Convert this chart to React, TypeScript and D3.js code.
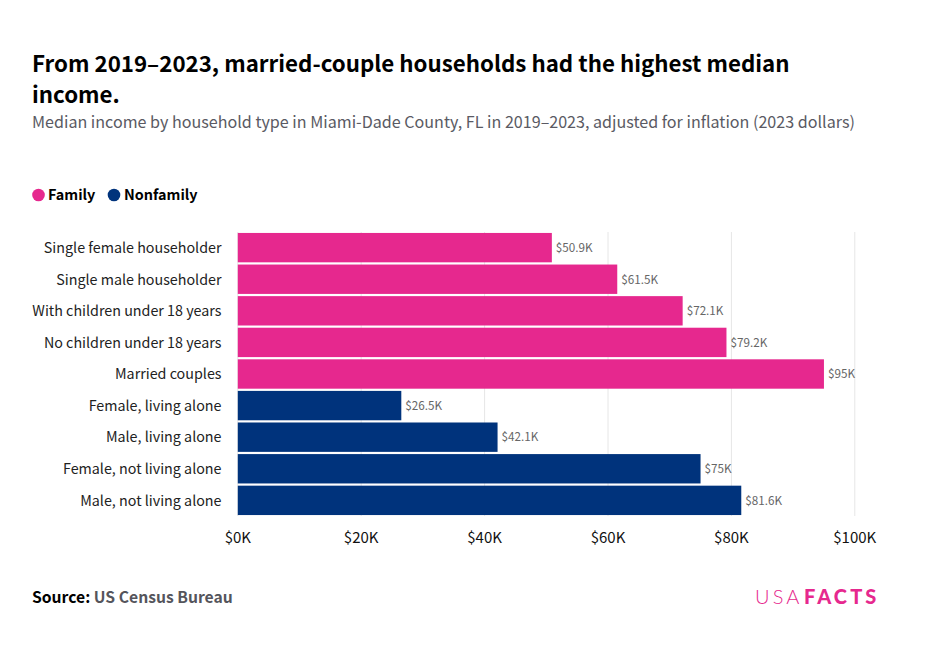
import React from 'react';
import * as d3 from 'd3';

const categories = [
  'Single female householder',
  'Single male householder',
  'With children under 18 years',
  'No children under 18 years',
  'Married couples',
  'Female, living alone',
  'Male, living alone',
  'Female, not living alone',
  'Male, not living alone',
];
const values = [50.9, 61.5, 72.1, 79.2, 95, 26.5, 42.1, 75, 81.6];
const groups = ['Family', 'Family', 'Family', 'Family', 'Family', 'Nonfamily', 'Nonfamily', 'Nonfamily', 'Nonfamily'];
const ticks = [0, 20, 40, 60, 80, 100];
const legend = ['Family', 'Nonfamily'];

const width = 929;
const height = 661;
const font = '"Noto Sans CJK SC", "Noto Sans", sans-serif';
const pink = '#e6288e';
const navy = '#00337c';

const color = d3.scaleOrdinal<string, string>().domain(legend).range([pink, navy]);
const x = d3.scaleLinear().domain([0, 100]).range([237.8, 854.8]);
const y = d3.scaleBand().domain(categories).range([232, 516]).paddingInner(0.07).paddingOuter(0.03);

export default function App() {
  return (
    <svg
      width={width}
      height={height}
      style={{ position: 'absolute', left: 0, top: 0, background: '#fff' }}
      fontFamily={font}
    >
      <text x={32} y={72} fontSize={22.3} fontWeight={700} fill="#000">
        From 2019–2023, married-couple households had the highest median
      </text>
      <text x={32} y={103} fontSize={22.3} fontWeight={700} fill="#000">
        income.
      </text>
      <text x={32} y={128} fontSize={16.1} fill="#5a5a63">
        Median income by household type in Miami-Dade County, FL in 2019–2023, adjusted for inflation (2023 dollars)
      </text>

      <circle cx={38.5} cy={195} r={6.3} fill={pink} />
      <text x={48} y={200} fontSize={14.4} fontWeight={700} fill="#000">{legend[0]}</text>
      <circle cx={114} cy={195} r={6.3} fill={navy} />
      <text x={124} y={200} fontSize={14.4} fontWeight={700} fill="#000">{legend[1]}</text>

      {ticks.map((t) => (
        <g key={t}>
          <line x1={x(t)} x2={x(t)} y1={232} y2={516} stroke="#e6e6e6" strokeWidth={1} />
          <text x={x(t)} y={543} fontSize={15} textAnchor="middle" fill="#111">{`$${t}K`}</text>
        </g>
      ))}

      {categories.map((c, i) => (
        <g key={c}>
          <rect
            x={x(0)}
            y={y(c)}
            width={x(values[i]) - x(0)}
            height={y.bandwidth()}
            fill={color(groups[i])}
          />
          <text
            x={221.5}
            y={y(c)! + y.bandwidth() / 2 + 5.3}
            fontSize={14.3}
            textAnchor="end"
            fill="#222"
          >
            {c}
          </text>
          <text
            x={x(values[i]) + 4}
            y={y(c)! + y.bandwidth() / 2 + 4.3}
            fontSize={11.7}
            fill="#666"
          >
            {`$${values[i]}K`}
          </text>
        </g>
      ))}

      <text x={32} y={603} fontSize={15.7} fontWeight={700} fill="#000">
        Source: <tspan fill="#55555c">US Census Bureau</tspan>
      </text>

      <text x={755} y={604} fontSize={20} fontFamily="Lato, sans-serif" fontWeight={300} letterSpacing={3.1} fill={pink}>
        USA
        <tspan dx={1.5} fontWeight={900}>FACTS</tspan>
      </text>
    </svg>
  );
}
